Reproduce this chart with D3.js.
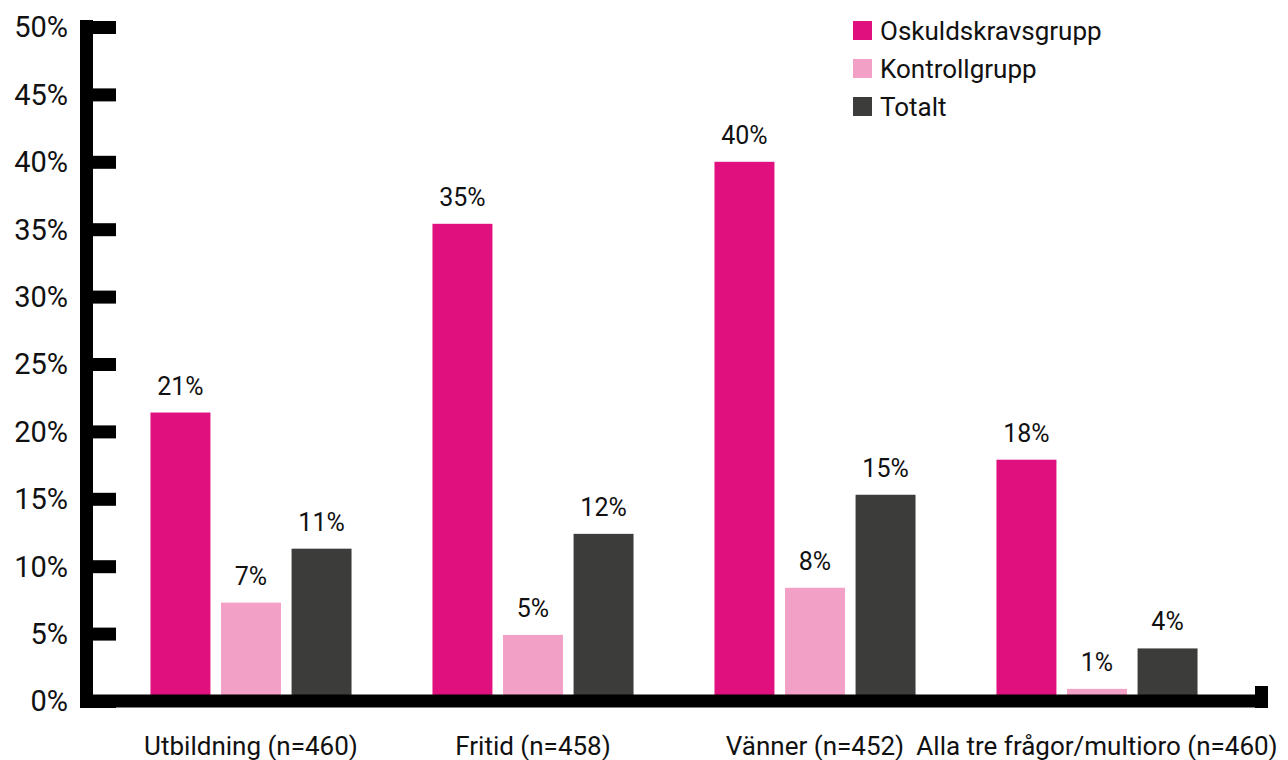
<!DOCTYPE html>
<html>
<head>
<meta charset="utf-8">
<script src="https://cdn.jsdelivr.net/npm/d3@7"></script>
<style>
  body { margin: 0; background: #fff; }
  svg { font-family: Roboto, "Noto Sans", sans-serif; }
</style>
</head>
<body>
<svg width="1288" height="760"></svg>
<script>
var groups = ["Utbildning (n=460)", "Fritid (n=458)", "Vänner (n=452)", "Alla tre frågor/multioro (n=460)"];
var series = ["Oskuldskravsgrupp", "Kontrollgrupp", "Totalt"];
var oskuld = [21.4, 35.4, 40.0, 17.9];
var kontroll = [7.3, 4.9, 8.4, 0.9];
var totalt = [11.3, 12.4, 15.3, 3.9];
var yTicks = [0, 5, 10, 15, 20, 25, 30, 35, 40, 45, 50];
var colors = ["#e0117f", "#f3a0c6", "#3c3c3b"];

var values = [oskuld, kontroll, totalt];
var data = groups.map(function (g, i) {
    return {group: g, vals: series.map(function (s, j) { return {key: s, value: values[j][i], idx: j}; })};
});

var svg = d3.select("svg");

var x0 = d3.scaleBand().domain(groups).range([110, 1238]).paddingInner(0.287).paddingOuter(0.1435);
var x1 = d3.scaleBand().domain(series).range([0, x0.bandwidth()]).paddingInner(0.15).paddingOuter(0);
var y = d3.scaleLinear().domain([0, 50]).range([701, 27]);

// bars
var g = svg.selectAll(".grp")
    .data(data)
    .enter().append("g")
    .attr("transform", function (d) { return "translate(" + x0(d.group) + ",0)"; });

g.selectAll("rect")
    .data(function (d) { return d.vals; })
    .enter().append("rect")
    .attr("x", function (d) { return x1(d.key); })
    .attr("y", function (d) { return y(d.value); })
    .attr("width", x1.bandwidth())
    .attr("height", function (d) { return y(0) - y(d.value); })
    .attr("fill", function (d) { return colors[d.idx]; });

g.selectAll("text")
    .data(function (d) { return d.vals; })
    .enter().append("text")
    .attr("x", function (d) { return x1(d.key) + x1.bandwidth() / 2; })
    .attr("y", function (d) { return y(d.value) - 18; })
    .attr("text-anchor", "middle")
    .attr("font-size", 25)
    .attr("fill", "#111")
    .text(function (d) { return Math.round(d.value) + "%"; });

// y axis (thick line with right pointing ticks)
var yAxis = svg.append("g")
    .attr("transform", "translate(86.5,0)")
    .call(d3.axisRight(y).tickValues(yTicks).tickSize(29.5).tickFormat(""));
yAxis.select(".domain").remove();
yAxis.selectAll(".tick line").attr("stroke", "#000").attr("stroke-width", 13);

svg.append("line")
    .attr("x1", 86.5).attr("x2", 86.5)
    .attr("y1", y(50) - 7).attr("y2", y(0) + 7)
    .attr("stroke", "#000").attr("stroke-width", 13);

svg.selectAll(".ylab")
    .data(yTicks)
    .enter().append("text")
    .attr("class", "ylab")
    .attr("x", 68)
    .attr("y", function (d) { return y(d); })
    .attr("dy", "0.36em")
    .attr("text-anchor", "end")
    .attr("font-size", 29)
    .attr("fill", "#111")
    .text(function (d) { return d + "%"; });

// x axis
svg.append("line")
    .attr("x1", 80).attr("x2", 1268)
    .attr("y1", y(0)).attr("y2", y(0))
    .attr("stroke", "#000").attr("stroke-width", 13);
svg.append("line")
    .attr("x1", 1261.5).attr("x2", 1261.5)
    .attr("y1", y(0) - 15).attr("y2", y(0) + 7)
    .attr("stroke", "#000").attr("stroke-width", 13);

var xAxis = svg.append("g")
    .attr("transform", "translate(0,755)")
    .call(d3.axisBottom(x0).tickSize(0).tickPadding(0));
xAxis.select(".domain").remove();
xAxis.selectAll("text")
    .attr("dy", null)
    .attr("font-size", 26)
    .attr("font-family", "Roboto, sans-serif")
    .attr("fill", "#111");

// legend
var legend = svg.selectAll(".leg")
    .data(series)
    .enter().append("g")
    .attr("transform", function (d, i) { return "translate(853," + (21 + i * 38) + ")"; });
legend.append("rect")
    .attr("width", 19).attr("height", 19)
    .attr("fill", function (d, i) { return colors[i]; });
legend.append("text")
    .attr("x", 27).attr("y", 10)
    .attr("dy", "0.36em")
    .attr("font-size", 26)
    .attr("fill", "#111")
    .text(function (d) { return d; });
</script>
</body>
</html>
